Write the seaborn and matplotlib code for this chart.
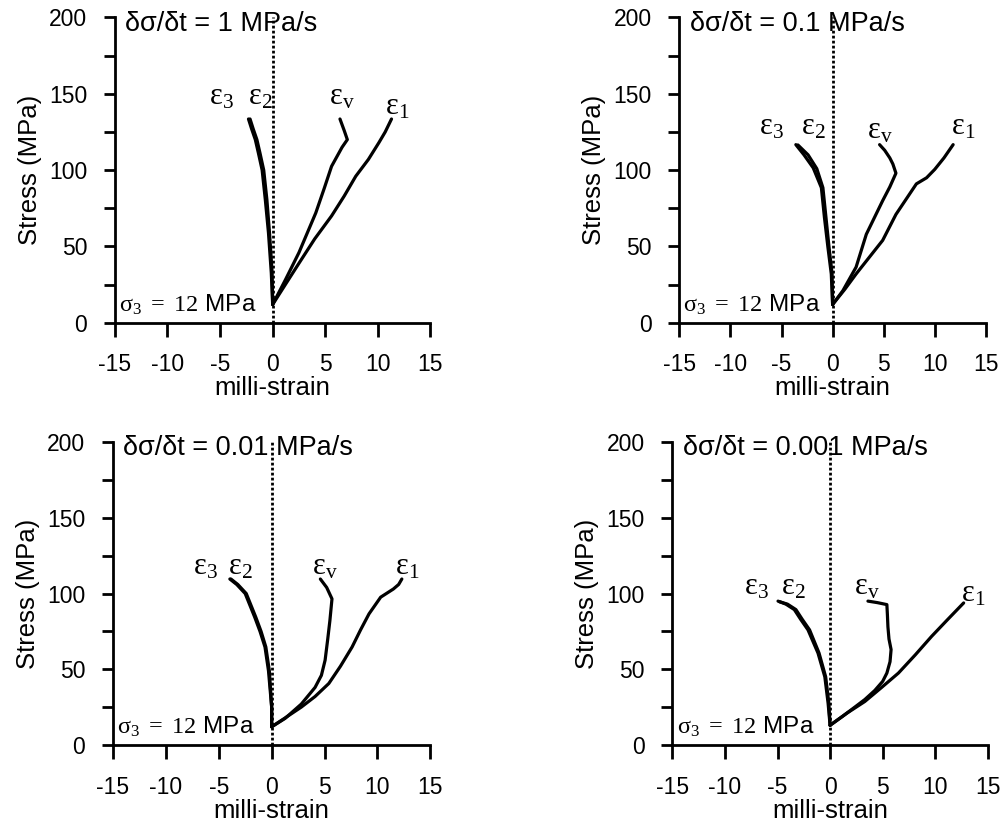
import matplotlib
matplotlib.use("Agg")
import matplotlib.pyplot as plt
import seaborn as sns
import pandas as pd

# ---------------- data ----------------
rates = ["1", "0.1", "0.01", "0.001"]
confining_label = "12"
x_ticks = [-15, -10, -5, 0, 5, 10, 15]
y_ticks = [0, 50, 100, 150, 200]

# panel 1: 1 MPa/s
p1_e1_strain = [0, 1.2, 2.5, 4.0, 5.6, 6.8, 7.9, 9.1, 10.1, 10.7, 11.3]
p1_e1_stress = [12, 25, 39, 55, 70, 83, 96, 107, 118, 125, 133.5]
p1_ev_strain = [0, 1.2, 2.5, 3.3, 4.1, 4.9, 5.6, 6.6, 7.1, 6.8, 6.4]
p1_ev_stress = [12, 28, 46, 59, 72, 88, 102.5, 115, 120, 126, 133.5]
p1_e3_strain = [0, -0.13, -0.4, -0.7, -1.0, -1.35, -1.65, -2.0, -2.3]
p1_e3_stress = [12, 32.6, 59, 80.7, 100, 111, 120, 127, 133.5]
p1_e2_strain = [0, -0.05, -0.3, -0.55, -0.85, -1.2, -1.5, -1.85, -2.15]
p1_e2_stress = [12, 32.6, 59, 80.7, 100, 111, 120, 127, 133.5]

# panel 2: 0.1 MPa/s
p2_e1_strain = [0, 1.2, 2.3, 3.6, 4.9, 6.2, 7.2, 8.2, 9.2, 10.0, 10.9, 11.8]
p2_e1_stress = [12, 22, 32, 43, 54, 71, 81, 91, 95, 100.5, 108, 116.7]
p2_ev_strain = [0, 1.0, 2.3, 3.3, 4.1, 4.9, 5.6, 6.2, 5.9, 5.6, 5.1, 4.6]
p2_ev_stress = [12, 21, 36.5, 58, 69, 80, 89, 98, 104, 108, 113, 116.7]
p2_e3_strain = [0, -0.13, -0.46, -0.8, -1.1, -1.9, -2.8, -3.6]
p2_e3_stress = [12, 32, 49.5, 69, 88.5, 101.5, 110, 116.7]
p2_e2_strain = [0, -0.05, -0.35, -0.65, -0.95, -1.55, -2.4, -3.4]
p2_e2_stress = [12, 32, 49.5, 69, 88.5, 101, 110, 116.5]

# panel 3: 0.01 MPa/s
p3_e1_strain = [0, 1.3, 2.8, 4.1, 5.4, 6.5, 7.6, 8.4, 9.2, 10.3, 11.5, 12.0, 12.3]
p3_e1_stress = [12, 18, 25, 32, 40.6, 52, 64.7, 76, 86.6, 97.6, 103, 106, 109.6]
p3_ev_strain = [0, 1.26, 2.8, 4.1, 4.7, 5.05, 5.3, 5.5, 5.7, 5.2, 4.6]
p3_ev_stress = [12, 17.5, 27, 38, 46, 56, 70, 82, 96.5, 104, 109.6]
p3_e3_strain = [0, 0, -0.3, -0.63, -1.1, -1.6, -2.5, -3.3, -3.95]
p3_e3_stress = [12, 25, 49, 64.7, 75, 84.4, 100, 106, 109.6]
p3_e2_strain = [0, 0, -0.22, -0.55, -1.0, -1.5, -2.4, -3.2, -3.85]
p3_e2_stress = [12, 25, 49, 64.7, 75, 84.4, 100, 106, 109.6]

# panel 4: 0.001 MPa/s
p4_e1_strain = [0, 1.6, 3.3, 4.9, 6.5, 8.1, 9.65, 11.2, 12.7]
p4_e1_stress = [13, 21, 28.7, 38, 47.5, 59.5, 71.7, 83, 93.8]
p4_ev_strain = [0, 1.2, 2.35, 3.3, 4.25, 5.0, 5.4, 5.7, 5.8, 5.6, 5.5, 5.45, 5.4, 4.5, 3.6]
p4_ev_stress = [13, 19, 25, 30, 36, 42, 47.5, 55, 63, 70, 78, 86, 92.7, 94, 95]
p4_e3_strain = [0, -0.19, -0.5, -1.15, -2.1, -2.8, -3.4, -4.2, -4.95]
p4_e3_stress = [13, 27.6, 45, 60.7, 76, 83, 89.4, 93, 95]
p4_e2_strain = [0, -0.12, -0.42, -1.05, -1.95, -2.65, -3.25, -4.05, -4.8]
p4_e2_stress = [13, 27.6, 45, 60.7, 76, 83, 89.4, 93, 94.6]

panels = [
    {"e1": (p1_e1_strain, p1_e1_stress), "ev": (p1_ev_strain, p1_ev_stress),
     "e3": (p1_e3_strain, p1_e3_stress), "e2": (p1_e2_strain, p1_e2_stress)},
    {"e1": (p2_e1_strain, p2_e1_stress), "ev": (p2_ev_strain, p2_ev_stress),
     "e3": (p2_e3_strain, p2_e3_stress), "e2": (p2_e2_strain, p2_e2_stress)},
    {"e1": (p3_e1_strain, p3_e1_stress), "ev": (p3_ev_strain, p3_ev_stress),
     "e3": (p3_e3_strain, p3_e3_stress), "e2": (p3_e2_strain, p3_e2_stress)},
    {"e1": (p4_e1_strain, p4_e1_stress), "ev": (p4_ev_strain, p4_ev_stress),
     "e3": (p4_e3_strain, p4_e3_stress), "e2": (p4_e2_strain, p4_e2_stress)},
]

# label anchor positions (strain, stress) for each curve label
label_pos = [
    {"e3": (-4.9, 148), "e2": (-1.2, 148), "ev": (6.6, 148), "e1": (11.8, 142)},
    {"e3": (-6.0, 128.6), "e2": (-1.9, 128.6), "ev": (4.6, 126), "e1": (12.8, 128.6)},
    {"e3": (-6.3, 118), "e2": (-3.0, 118), "ev": (5.05, 118), "e1": (12.8, 118)},
    {"e3": (-7.0, 104.8), "e2": (-3.5, 104.8), "ev": (3.5, 104.8), "e1": (13.6, 100)},
]
label_text = {"e1": r"$\varepsilon_1$", "e2": r"$\varepsilon_2$",
              "e3": r"$\varepsilon_3$", "ev": r"$\varepsilon_\mathrm{v}$"}

# ---------------- style ----------------
sns.set_theme(style="white")
plt.rcParams["font.family"] = ["Liberation Sans", "DejaVu Sans"]
plt.rcParams["mathtext.fontset"] = "custom"
plt.rcParams["mathtext.rm"] = "Liberation Serif"
plt.rcParams["mathtext.it"] = "Liberation Serif:italic"
plt.rcParams["mathtext.default"] = "rm"
plt.rcParams["text.color"] = "black"
plt.rcParams["axes.labelcolor"] = "black"
plt.rcParams["xtick.color"] = "black"
plt.rcParams["ytick.color"] = "black"

fig = plt.figure(figsize=(10.08, 8.32), dpi=100)
positions = [
    [0.114, 0.612, 0.313, 0.367],
    [0.674, 0.612, 0.304, 0.367],
    [0.112, 0.1046, 0.315, 0.364],
    [0.667, 0.1046, 0.313, 0.364],
]

for i, pos in enumerate(positions):
    ax = fig.add_axes(pos)
    data = panels[i]
    for key in ["e1", "ev", "e3", "e2"]:
        xs, ys = data[key]
        df = pd.DataFrame({"strain": xs, "stress": ys})
        sns.lineplot(data=df, x="strain", y="stress", sort=False, estimator=None,
                     color="black", linewidth=2.3, ax=ax)
    ax.axvline(0, ymin=0, ymax=1, color="black", linestyle=(0, (1, 0.8)), linewidth=2.0)

    ax.set_xlim(-15, 15)
    ax.set_ylim(0, 200)
    ax.set_xticks(x_ticks)
    ax.set_xticklabels([str(t) for t in x_ticks])
    ax.set_yticks(y_ticks)
    ax.set_yticklabels([str(t) for t in y_ticks])
    ax.set_yticks([25, 75, 125, 175], minor=True)
    ax.tick_params(axis="x", which="major", direction="out", length=10, width=2,
                   labelsize=16.5, pad=12, color="black", labelcolor="black", bottom=True)
    ax.tick_params(axis="y", which="both", direction="out", length=8, width=2,
                   labelsize=16.5, pad=12, color="black", labelcolor="black", left=True)
    for s in ["top", "right"]:
        ax.spines[s].set_visible(False)
    for s in ["left", "bottom"]:
        ax.spines[s].set_linewidth(2)
        ax.spines[s].set_color("black")
    ax.set_xlabel("milli-strain", fontsize=18.5, labelpad=0, color="black")
    ax.set_ylabel("Stress (MPa)", fontsize=18.5, labelpad=5, color="black")
    ax.set_facecolor("white")

    ax.text(-14.0, 196, "δσ/δt = " + rates[i] + " MPa/s", ha="left", va="center",
            fontsize=19.5, color="black")
    ax.text(-14.6, 12, r"$\sigma_3\ =\ " + confining_label + "$ MPa", ha="left", va="center",
            fontsize=17.5, color="black")
    for key, (lx, ly) in label_pos[i].items():
        ax.text(lx, ly, label_text[key], ha="center", va="center", fontsize=22,
                color="black")

fig.savefig("out.png", dpi=100, facecolor="white")
